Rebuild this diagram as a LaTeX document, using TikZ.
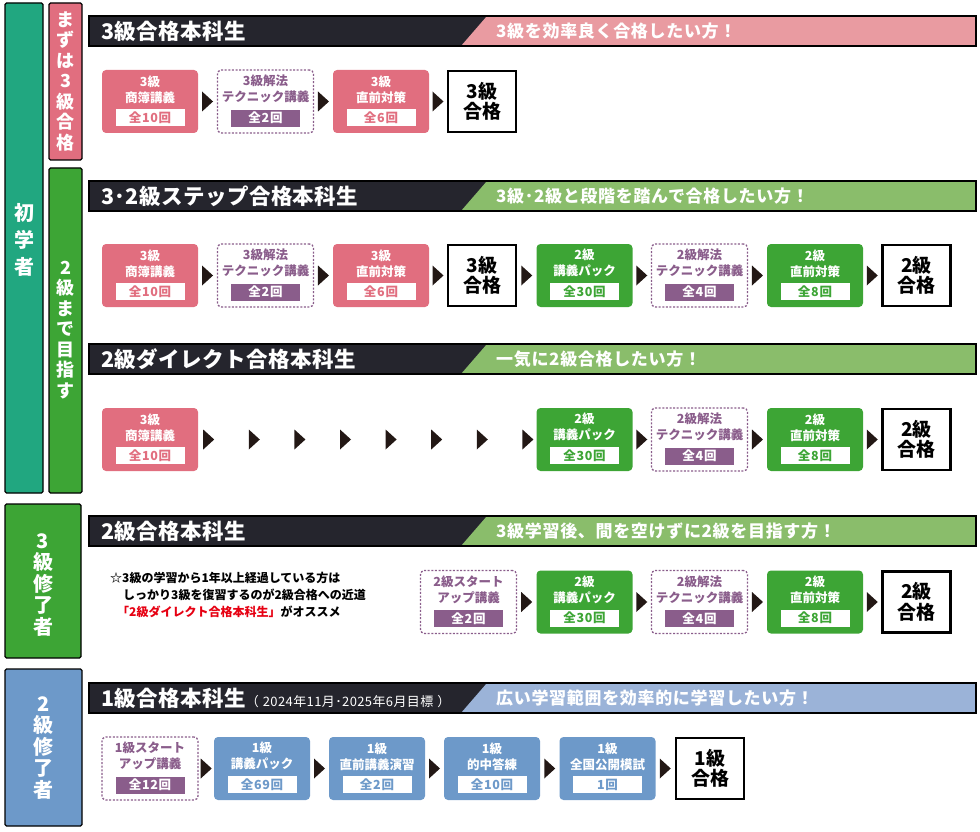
\documentclass[tikz,border=0pt]{standalone}
\usepackage{fontspec}
\setmainfont{Noto Sans CJK JP}
\usepackage{xcolor}
\usetikzlibrary{calc}
\definecolor{hdark}{HTML}{25252D}
\definecolor{kteal}{HTML}{21A780}
\definecolor{kpink}{HTML}{E16E7F}
\definecolor{kpinkL}{HTML}{E99BA1}
\definecolor{kgreen}{HTML}{3DA535}
\definecolor{kgreenL}{HTML}{8ABD6B}
\definecolor{kblue}{HTML}{6D99C9}
\definecolor{kblueL}{HTML}{9BB3D8}
\definecolor{kpurple}{HTML}{8A5D8B}
\definecolor{ktri}{HTML}{231815}
\definecolor{kred}{HTML}{E60012}

\begin{document}
\begin{tikzpicture}[x=1pt, y=-1pt,
    corso/.style={rounded corners=4pt, minimum width=96pt, minimum height=63pt, inner sep=0pt},
    titolo/.style={align=center, inner sep=0pt, font=\fontsize{12.5}{16}\selectfont\bfseries},
    conta/.style={minimum width=69pt, minimum height=17pt, inner sep=0pt,
        font=\fontsize{12.5}{14}\selectfont\bfseries\addfontfeatures{LetterSpace=6}},
    rosa/.style={corso, fill=kpink},
    rosa-t/.style={titolo, text=white},
    rosa-k/.style={conta, fill=white, text=kpink},
    verde/.style={corso, fill=kgreen},
    verde-t/.style={titolo, text=white},
    verde-k/.style={conta, fill=white, text=kgreen},
    blu/.style={corso, fill=kblue},
    blu-t/.style={titolo, text=white},
    blu-k/.style={conta, fill=white, text=kblue},
    viola/.style={corso, fill=white, draw=kpurple, line width=1.3pt, dash pattern=on 2pt off 1.6pt},
    viola-t/.style={titolo, text=kpurple},
    viola-k/.style={conta, fill=kpurple, text=white},
    esito/.style={draw=black, line width=2.4pt, fill=white, minimum width=68pt, minimum height=61pt,
        inner sep=0pt, align=center, font=\fontsize{19}{20.5}\selectfont\bfseries},
    freccia/.style={fill=ktri},
    colonna/.style={draw=black, line width=1.2pt, rounded corners=1.5pt, inner sep=0pt},
    vtesto/.style={text=white, align=center, inner sep=0pt},
    testata/.style={text=white, inner sep=0pt,
        font=\fontsize{21.5}{24}\selectfont\bfseries\addfontfeatures{LetterSpace=2}},
    motto/.style={text=white, inner sep=0pt,
        font=\fontsize{17}{20}\selectfont\bfseries\addfontfeatures{LetterSpace=4}},
    nota/.style={inner sep=0pt, font=\fontsize{12}{14}\selectfont\bfseries}]
    \useasboundingbox (0,0) rectangle (980,832);

    % Colonne laterali
    \node[colonna, fill=kteal, minimum width=38pt, minimum height=490pt] (ini) at (24,248) {};
    \node[vtesto, font=\fontsize{20}{27}\selectfont\bfseries] (iniT) at (24,240) {初\\学\\者};
    \node[colonna, fill=kpink, minimum width=33pt, minimum height=157pt] (mazu) at (65.5,81.5) {};
    \node[vtesto, font=\fontsize{18}{20.5}\selectfont\bfseries] (mazuT) at (65.5,81.5) {ま\\ず\\は\\3\\級\\合\\格};
    \node[colonna, fill=kgreen, minimum width=33pt, minimum height=325pt] (made) at (65.5,330.5) {};
    \node[vtesto, font=\fontsize{18}{20.5}\selectfont\bfseries] (madeT) at (65.5,330) {2\\級\\ま\\で\\目\\指\\す};
    \node[colonna, fill=kgreen, minimum width=76pt, minimum height=154pt] (shu3) at (43,581) {};
    \node[vtesto, font=\fontsize{20}{21.5}\selectfont\bfseries] (shu3T) at (43,585) {3\\級\\修\\了\\者};
    \node[colonna, fill=kblue, minimum width=77pt, minimum height=157pt] (shu2) at (43.5,747.5) {};
    \node[vtesto, font=\fontsize{20}{21.5}\selectfont\bfseries] (shu2T) at (43.5,748) {2\\級\\修\\了\\者};

    % Testate dei corsi
    \foreach \y/\sx/\dx/\c [count=\i] in {
        16/{3級合格本科生}/{3級を効率良く合格したい方！}/kpinkL,
        181/{3･2級ステップ合格本科生}/{3級･2級と段階を踏んで合格したい方！}/kgreenL,
        344/{2級ダイレクト合格本科生}/{一気に2級合格したい方！}/kgreenL,
        516/{2級合格本科生}/{3級学習後、間を空けずに2級を目指す方！}/kgreenL,
        683/{1級合格本科生{\fontsize{13}{14}\selectfont\mdseries\addfontfeatures{LetterSpace=3}（\hspace{4pt}2024年11月･2025年6月目標\hspace{4pt}）}}/{広い学習範囲を効率的に学習したい方！}/kblueL} {
        \fill[hdark] (89,\y) rectangle (976,\y+30);
        \fill[\c] (461,\y+30) -- (487,\y) -- (976,\y) -- (976,\y+30) -- cycle;
        \draw[line width=1.2pt] (89,\y) rectangle (976,\y+30);
        \node[testata, anchor=west] (h\i) at (101,\y+15) {\sx};
        \node[motto, anchor=west] (m\i) at (496,\y+15) {\dx};
    }

    % Corsi di 3級 (righe 1 e 2)
    \foreach \r/\y in {1/101.5, 2/275.5} {
        \foreach \n/\x/\s/\t/\k in {a/150/rosa/{3級\\商簿講義}/全10回, b/265.5/viola/{3級解法\\テクニック講義}/全2回, c/381/rosa/{3級\\直前対策}/全6回} {
            \node[\s] (r\r\n) at (\x,\y) {};
            \node[\s-t] (r\r\n t) at ($(r\r\n.north)+(0,19.5)$) {\t};
            \node[\s-k] (r\r\n k) at ($(r\r\n.south)+(0,-15.5)$) {\k};
        }
        \node[esito] (r\r p) at (482,\y) {3級\\合格};
    }

    % Riga 3: solo 商簿講義
    \node[rosa] (r3a) at (150,439.5) {};
    \node[rosa-t] (r3at) at ($(r3a.north)+(0,19.5)$) {3級\\商簿講義};
    \node[rosa-k] (r3ak) at ($(r3a.south)+(0,-15.5)$) {全10回};

    % Riga 4: スタートアップ講義
    \node[viola] (r4d) at (468.5,602) {};
    \node[viola-t] (r4dt) at ($(r4d.north)+(0,19.5)$) {2級スタート\\アップ講義};
    \node[viola-k] (r4dk) at ($(r4d.south)+(0,-15.5)$) {全2回};

    % Corsi di 2級 (righe 2, 3 e 4)
    \foreach \r/\y in {2/275.5, 3/439.5, 4/602} {
        \foreach \n/\x/\s/\t/\k in {e/584.5/verde/{2級\\講義パック}/全30回, f/699.5/viola/{2級解法\\テクニック講義}/全4回, g/815/verde/{2級\\直前対策}/全8回} {
            \node[\s] (r\r\n) at (\x,\y) {};
            \node[\s-t] (r\r\n t) at ($(r\r\n.north)+(0,19.5)$) {\t};
            \node[\s-k] (r\r\n k) at ($(r\r\n.south)+(0,-15.5)$) {\k};
        }
        \node[esito] (r\r q) at (916.5,\y) {2級\\合格};
    }

    % Nota della riga 4
    \node[nota, anchor=west] (n1) at (110,578) {☆3級の学習から1年以上経過している方は};
    \node[nota, anchor=west] (n2) at (123,595) {しっかり3級を復習するのが2級合格への近道};
    \node[nota, anchor=west] (n3) at (117,612) {\textcolor{kred}{「2級ダイレクト合格本科生」}がオススメ};

    % Riga 5: corsi di 1級
    \foreach \n/\x/\s/\t/\k in {a/150/viola/{1級スタート\\アップ講義}/全12回, b/262/blu/{1級\\講義パック}/全69回, c/377/blu/{1級\\直前講義演習}/全2回, d/492/blu/{1級\\的中答練}/全10回, e/607.5/blu/{1級\\全国公開模試}/1回} {
        \node[\s] (r5\n) at (\x,768.5) {};
        \node[\s-t] (r5\n t) at ($(r5\n.north)+(0,19.5)$) {\t};
        \node[\s-k] (r5\n k) at ($(r5\n.south)+(0,-15.5)$) {\k};
    }
    \node[esito] (r5p) at (710,768.5) {1級\\合格};

    % Triangoli tra i corsi
    \foreach \a/\b in {r1a/r1b, r1b/r1c, r1c/r1p, r2a/r2b, r2b/r2c, r2c/r2p, r2p/r2e, r2e/r2f, r2f/r2g, r2g/r2q,
        r3e/r3f, r3f/r3g, r3g/r3q, r4d/r4e, r4e/r4f, r4f/r4g, r4g/r4q, r5a/r5b, r5b/r5c, r5c/r5d, r5d/r5e, r5e/r5p} {
        \fill[freccia] ($(\a.east)!0.5!(\b.west)$) ++(-5.5,-10) -- ++(11,10) -- ++(-11,10) -- cycle;
    }
    % Triangoli della riga 3 (ダイレクト)
    \foreach \i in {0,...,7} {
        \fill[freccia] ($(r3a.east)+(5+\i*45.6,-10)$) -- ++(11,10) -- ++(-11,10) -- cycle;
    }
\end{tikzpicture}
\end{document}
